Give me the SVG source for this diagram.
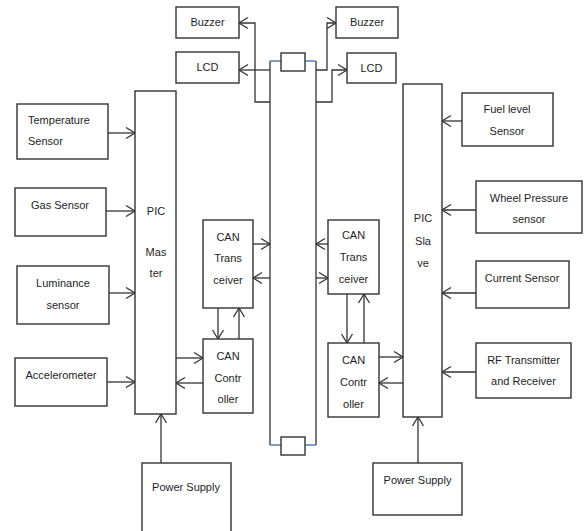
<svg xmlns="http://www.w3.org/2000/svg" width="584" height="531" viewBox="0 0 584 531">
<defs>
<marker id="arr" markerUnits="userSpaceOnUse" markerWidth="12" markerHeight="14" refX="9" refY="6" orient="auto" overflow="visible">
<path d="M0,0.5 L9,6 L0,11.5" fill="none" stroke="#333" stroke-width="1.3"/>
</marker>
<style>
rect{fill:#fff;stroke:#333;stroke-width:1.4}
text{font-family:"Liberation Sans",Arial,sans-serif;font-size:11px;fill:#1e1e28;text-anchor:middle}
.c line,.c polyline{stroke:#333;stroke-width:1.3;fill:none}
.c .a{marker-end:url(#arr)}
.c .b{stroke:#4f81bd;stroke-width:1.5}
</style>
</defs>
<rect x="0" y="0" width="584" height="531" style="stroke:none;fill:#fff"/>
<g class="c" id="connectors">
<line class="a" x1="108" y1="133" x2="135" y2="133"/>
<line class="a" x1="106" y1="211" x2="135" y2="211"/>
<line class="a" x1="109" y1="293" x2="135" y2="293"/>
<line class="a" x1="107" y1="382" x2="135" y2="382"/>
<line class="a" x1="176" y1="358" x2="203" y2="358"/>
<line class="a" x1="203" y1="383" x2="176" y2="383"/>
<line class="a" x1="218" y1="308" x2="218" y2="339"/>
<line class="a" x1="239" y1="339" x2="239" y2="308"/>
<line class="a" x1="253" y1="244" x2="270" y2="244"/>
<line class="a" x1="270" y1="278" x2="253" y2="278"/>
<line class="a" x1="328" y1="244" x2="316" y2="244"/>
<line class="a" x1="316" y1="278" x2="328" y2="278"/>
<line class="a" x1="347" y1="294" x2="347" y2="343"/>
<line class="a" x1="364" y1="343" x2="364" y2="294"/>
<line class="a" x1="379" y1="357" x2="403" y2="357"/>
<line class="a" x1="403" y1="383" x2="379" y2="383"/>
<line class="a" x1="462" y1="121" x2="442" y2="121"/>
<line class="a" x1="476" y1="210" x2="442" y2="210"/>
<line class="a" x1="476" y1="293" x2="442" y2="293"/>
<line class="a" x1="476" y1="372" x2="442" y2="372"/>
<line class="a" x1="161" y1="463" x2="161" y2="414"/>
<line class="a" x1="418" y1="463" x2="418" y2="417"/>
<line x1="270" y1="61" x2="270" y2="445"/>
<line x1="316" y1="61" x2="316" y2="445"/>
<line class="b" x1="270" y1="61" x2="281" y2="61"/>
<line class="b" x1="305" y1="61" x2="316" y2="61"/>
<line class="b" x1="270" y1="445" x2="281" y2="445"/>
<line class="b" x1="305" y1="445" x2="316" y2="445"/>
<polyline class="a" points="270,102 255,102 255,23 239,23"/>
<line class="a" x1="270" y1="70" x2="239" y2="70"/>
<polyline class="a" points="316,70 327,70 327,23 336,23"/>
<polyline class="a" points="316,102 332,102 332,70 347,70"/>
</g>
<g id="term-top"><rect x="281" y="53" width="24" height="18"/></g>
<g id="term-bottom"><rect x="281" y="437" width="24" height="18"/></g>
<g id="buzzer-left"><rect x="176" y="7" width="63" height="31"/><text x="207.5" y="26">Buzzer</text></g>
<g id="lcd-left"><rect x="176" y="52" width="63" height="31"/><text x="207.5" y="71">LCD</text></g>
<g id="buzzer-right"><rect x="336" y="7" width="62" height="31"/><text x="367" y="26">Buzzer</text></g>
<g id="lcd-right"><rect x="347" y="53" width="49" height="30"/><text x="371.5" y="72">LCD</text></g>
<g id="temperature"><rect x="17" y="104" width="91" height="55"/><text x="28" y="124" style="text-anchor:start">Temperature</text><text x="28" y="145" style="text-anchor:start">Sensor</text></g>
<g id="gas"><rect x="15" y="188" width="91" height="48"/><text x="60" y="209">Gas Sensor</text></g>
<g id="luminance"><rect x="17" y="266" width="92" height="58"/><text x="63" y="287">Luminance</text><text x="63" y="309">sensor</text></g>
<g id="accelerometer"><rect x="15" y="358" width="92" height="48"/><text x="61" y="379">Accelerometer</text></g>
<g id="pic-master"><rect x="135" y="91" width="41" height="323"/><text x="156" y="215">PIC</text><text x="156" y="256">Mas</text><text x="156" y="277">ter</text></g>
<g id="can-trans-left"><rect x="203" y="220" width="50" height="88"/><text x="228" y="241">CAN</text><text x="228" y="262">Trans</text><text x="228" y="284">ceiver</text></g>
<g id="can-ctrl-left"><rect x="203" y="339" width="50" height="74"/><text x="228" y="360">CAN</text><text x="228" y="382">Contr</text><text x="228" y="403">oller</text></g>
<g id="can-trans-right"><rect x="328" y="220" width="51" height="74"/><text x="353.5" y="239">CAN</text><text x="353.5" y="261">Trans</text><text x="353.5" y="283">ceiver</text></g>
<g id="can-ctrl-right"><rect x="328" y="343" width="51" height="74"/><text x="353.5" y="364">CAN</text><text x="353.5" y="386">Contr</text><text x="353.5" y="408">oller</text></g>
<g id="pic-slave"><rect x="403" y="84" width="39" height="333"/><text x="423" y="222">PIC</text><text x="423" y="245">Sla</text><text x="423" y="267">ve</text></g>
<g id="fuel"><rect x="462" y="93" width="91" height="53"/><text x="507" y="113">Fuel level</text><text x="507" y="135">Sensor</text></g>
<g id="wheel"><rect x="476" y="181" width="106" height="52"/><text x="529" y="202">Wheel Pressure</text><text x="529" y="223">sensor</text></g>
<g id="current"><rect x="476" y="261" width="93" height="47"/><text x="522" y="282">Current Sensor</text></g>
<g id="rf"><rect x="476" y="343" width="95" height="55"/><text x="523.5" y="364">RF Transmitter</text><text x="523.5" y="385">and Receiver</text></g>
<g id="power-left"><rect x="142" y="463" width="89" height="75"/><text x="186" y="491">Power Supply</text></g>
<g id="power-right"><rect x="373" y="463" width="89" height="52"/><text x="417.5" y="484">Power Supply</text></g>
</svg>
